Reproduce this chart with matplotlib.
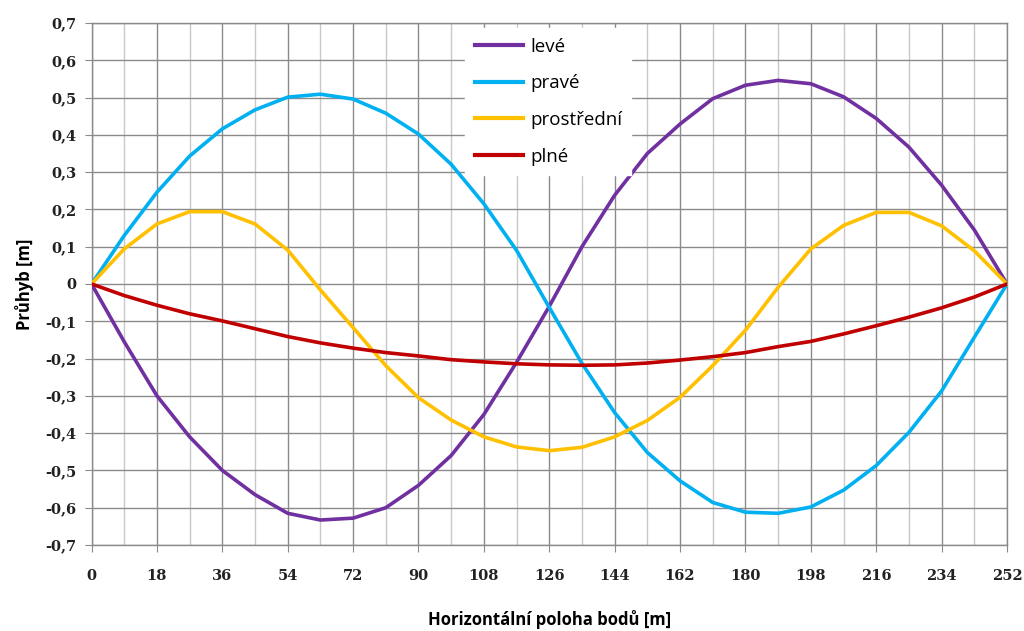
import numpy as np
import matplotlib.pyplot as plt
from matplotlib.ticker import MultipleLocator, FuncFormatter

# horizontal position of points [m]
x = np.arange(0, 253, 9)

leve = [0, -0.155, -0.30, -0.41, -0.50, -0.565, -0.615, -0.633, -0.628, -0.60,
        -0.54, -0.46, -0.35, -0.21, -0.06, 0.10, 0.238, 0.35, 0.429, 0.497,
        0.533, 0.546, 0.537, 0.502, 0.444, 0.367, 0.265, 0.145, 0]
prave = [0, 0.13, 0.246, 0.343, 0.416, 0.467, 0.501, 0.509, 0.496, 0.458,
         0.402, 0.321, 0.215, 0.09, -0.063, -0.213, -0.345, -0.452, -0.528, -0.586,
         -0.612, -0.615, -0.598, -0.553, -0.487, -0.398, -0.287, -0.143, 0]
prostredni = [0, 0.094, 0.161, 0.194, 0.194, 0.161, 0.091, -0.016, -0.117, -0.219,
              -0.305, -0.365, -0.41, -0.437, -0.447, -0.438, -0.41, -0.366, -0.304, -0.219,
              -0.124, -0.009, 0.094, 0.157, 0.192, 0.192, 0.156, 0.089, 0]
plne = [0, -0.031, -0.057, -0.08, -0.099, -0.12, -0.141, -0.158, -0.172, -0.184,
        -0.193, -0.203, -0.209, -0.214, -0.217, -0.218, -0.217, -0.212, -0.204, -0.195,
        -0.184, -0.168, -0.154, -0.134, -0.112, -0.089, -0.064, -0.035, 0]

labels = ['levé', 'pravé', 'prostřední', 'plné']
colors = ['#7030A0', '#00B0F0', '#FFC000', '#C00000']

fig = plt.figure(figsize=(10.24, 6.31), dpi=100)
ax = fig.add_axes([0.0894, 0.1363, 0.894, 0.8273])

for y, lab, c in zip([leve, prave, prostredni, plne], labels, colors):
    ax.plot(x, y, color=c, linewidth=2.6, label=lab, solid_joinstyle='round', zorder=3)

ax.set_xlim(0, 252)
ax.set_ylim(-0.7, 0.7)
ax.xaxis.set_major_locator(MultipleLocator(18))
ax.xaxis.set_minor_locator(MultipleLocator(9))
ax.yaxis.set_major_locator(MultipleLocator(0.1))

# comma decimal separator
def fmt(v, pos):
    s = '%.1f' % v
    if s in ('0.0', '-0.0'):
        return '0'
    return s.replace('.', ',')
ax.yaxis.set_major_formatter(FuncFormatter(fmt))

ax.grid(which='major', axis='both', color='#8a8a8a', linewidth=1.0, zorder=0)
ax.grid(which='minor', axis='x', color='#c8c8c8', linewidth=1.0, zorder=0)
ax.set_axisbelow(True)

for s in ax.spines.values():
    s.set_color('#8a8a8a')
    s.set_linewidth(1.0)

tickfont = dict(family='DejaVu Serif', weight='bold', size=10.5)
ax.tick_params(axis='both', which='major', length=5, color='#8a8a8a', pad=6)
ax.tick_params(axis='x', which='minor', length=0)
ax.tick_params(axis='x', pad=12)
for t in ax.get_xticklabels() + ax.get_yticklabels():
    t.set_fontproperties(tickfont)
    t.set_color('#222222')

ax.set_xlabel('Horizontální poloha bodů [m]', fontfamily='Open Sans', fontweight='bold',
              fontsize=12, labelpad=20)
ax.set_ylabel('Průhyb [m]', fontfamily='Open Sans', fontweight='bold', fontsize=12, labelpad=8)

leg = ax.legend(loc='upper left', bbox_to_anchor=(0.398, 1.008), frameon=True,
                fancybox=False, handlelength=2.6, handletextpad=0.35, labelspacing=1.0,
                borderpad=0.5, prop={'family': 'Open Sans', 'size': 13.5})
leg.get_frame().set_facecolor('white')
leg.get_frame().set_edgecolor('white')
leg.get_frame().set_alpha(1)
for line in leg.get_lines():
    line.set_linewidth(3)

fig.savefig('out.png', dpi=100)
